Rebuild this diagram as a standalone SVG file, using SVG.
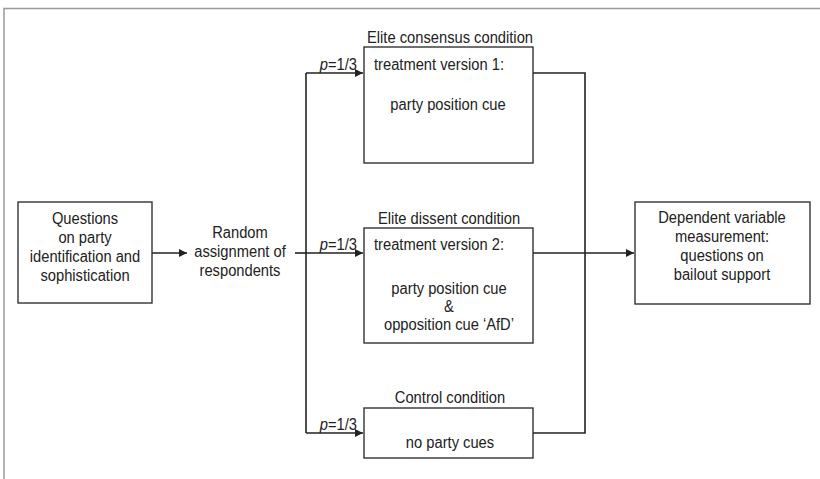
<svg xmlns="http://www.w3.org/2000/svg" width="820" height="479" viewBox="0 0 820 479">
<defs>
<style>
text{font-family:"Liberation Sans",Arial,sans-serif;font-size:16px;fill:#222}
.c{text-anchor:middle}
.box{fill:#fff;stroke:#333;stroke-width:1.4}
.ln{fill:none;stroke:#222;stroke-width:1.6}
</style>
<marker id="ah" viewBox="0 0 10 10" refX="10" refY="5" markerWidth="8" markerHeight="8" markerUnits="userSpaceOnUse" orient="auto">
<path d="M0,0 L10,5 L0,10 z" fill="#222"/>
</marker>
</defs>
<rect x="0" y="0" width="820" height="479" fill="#fff"/>
<path d="M4,479 V8.5 H820" fill="none" stroke="#999" stroke-width="1.5"/>

<g id="connectors">
<line class="ln" x1="152" y1="253" x2="187" y2="253" marker-end="url(#ah)"/>
<line class="ln" x1="295" y1="253" x2="306" y2="253"/>
<line class="ln" x1="306" y1="73" x2="306" y2="433"/>
<line class="ln" x1="306" y1="73" x2="363" y2="73" marker-end="url(#ah)"/>
<line class="ln" x1="306" y1="253" x2="363" y2="253" marker-end="url(#ah)"/>
<line class="ln" x1="306" y1="433" x2="363" y2="433" marker-end="url(#ah)"/>
<polyline class="ln" points="533,73 585,73 585,433 533,433"/>
<line class="ln" x1="533" y1="253" x2="634" y2="253" marker-end="url(#ah)"/>
<text transform="translate(357,70) scale(0.92,1)" text-anchor="end"><tspan font-style="italic">p</tspan>=1/3</text>
<text transform="translate(357,250) scale(0.92,1)" text-anchor="end"><tspan font-style="italic">p</tspan>=1/3</text>
<text transform="translate(357,430) scale(0.92,1)" text-anchor="end"><tspan font-style="italic">p</tspan>=1/3</text>
</g>

<g id="questions">
<rect class="box" x="18" y="202" width="134" height="101"/>
<text class="c" transform="translate(85,224) scale(0.92,1)">Questions</text>
<text class="c" transform="translate(85,243) scale(0.92,1)">on party</text>
<text class="c" transform="translate(85,262) scale(0.92,1)">identification and</text>
<text class="c" transform="translate(85,281) scale(0.92,1)">sophistication</text>
</g>

<g id="random">
<text class="c" transform="translate(240,238) scale(0.92,1)">Random</text>
<text class="c" transform="translate(240,257) scale(0.92,1)">assignment of</text>
<text class="c" transform="translate(240,276) scale(0.92,1)">respondents</text>
</g>

<g id="consensus">
<text class="c" transform="translate(450,43) scale(0.92,1)">Elite consensus condition</text>
<rect class="box" x="364" y="47" width="169" height="116"/>
<text transform="translate(374,70) scale(0.92,1)">treatment version 1:</text>
<text class="c" transform="translate(448,110) scale(0.92,1)">party position cue</text>
</g>

<g id="dissent">
<text class="c" transform="translate(449,224) scale(0.92,1)">Elite dissent condition</text>
<rect class="box" x="364" y="228" width="169" height="115"/>
<text transform="translate(374,250) scale(0.92,1)">treatment version 2:</text>
<text class="c" transform="translate(449,294) scale(0.92,1)">party position cue</text>
<text class="c" transform="translate(449,312) scale(0.92,1)">&amp;</text>
<text class="c" transform="translate(449,330) scale(0.92,1)">opposition cue ‘AfD’</text>
</g>

<g id="control">
<text class="c" transform="translate(450,403) scale(0.92,1)">Control condition</text>
<rect class="box" x="364" y="408" width="169" height="50"/>
<text class="c" transform="translate(450,448) scale(0.92,1)">no party cues</text>
</g>

<g id="dependent">
<rect class="box" x="635" y="202" width="175" height="102"/>
<text class="c" transform="translate(722,223) scale(0.92,1)">Dependent variable</text>
<text class="c" transform="translate(722,242) scale(0.92,1)">measurement:</text>
<text class="c" transform="translate(722,261) scale(0.92,1)">questions on</text>
<text class="c" transform="translate(722,280) scale(0.92,1)">bailout support</text>
</g>
</svg>
